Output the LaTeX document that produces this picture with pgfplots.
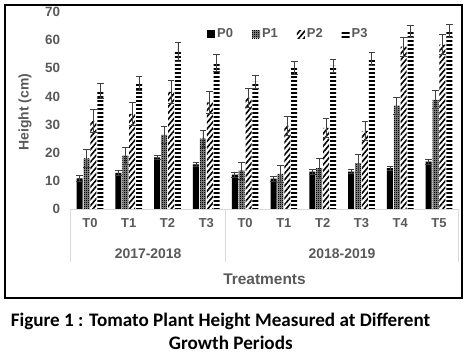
\documentclass[border=0pt]{standalone}
\usepackage{fontspec}
\setmainfont{Liberation Sans}
\newfontfamily\capfont{Carlito}
\usepackage{pgfplots}
\pgfplotsset{compat=1.18}
\usepackage{pgfplotstable}
\usetikzlibrary{patterns,patterns.meta}
\definecolor{txt}{HTML}{595959}
\definecolor{errc}{HTML}{404040}
\definecolor{sep}{HTML}{D9D9D9}
\pgfdeclarepatternformonly{checker}{\pgfqpoint{0pt}{0pt}}{\pgfqpoint{2bp}{2bp}}{\pgfqpoint{2bp}{2bp}}{%
 \pgfpathrectangle{\pgfqpoint{0pt}{0pt}}{\pgfqpoint{1.25bp}{1.25bp}}%
 \pgfpathrectangle{\pgfqpoint{1bp}{1bp}}{\pgfqpoint{1bp}{1bp}}%
 \pgfusepath{fill}}

\pgfplotstableread{
x P0 e0 P1 e1 P2 e2 P3 e3
0 10.9 0.9 18.0 3.2 31.3 4.0 42.0 2.6
1 12.8 0.8 19.0 3.0 33.8 4.0 44.8 2.5
2 18.3 0.8 26.3 3.1 41.6 4.0 55.9 3.3
3 15.9 0.8 25.0 3.0 37.9 4.0 51.8 3.0
4 12.2 0.9 13.6 3.1 39.5 3.5 45.2 2.4
5 10.8 0.8 12.5 3.1 29.5 3.5 50.3 2.3
6 13.3 0.9 14.5 3.5 28.8 3.5 50.9 2.3
7 13.3 0.8 16.3 3.2 27.8 3.4 53.5 2.3
8 14.5 0.8 36.7 3.0 57.7 3.4 63.2 2.2
9 16.8 0.8 38.8 3.2 58.4 3.5 63.4 2.3
}\data

\begin{document}
\begin{tikzpicture}
\path (0,0) rectangle (470bp,357bp);
\draw[line width=2.5bp] (5bp,59bp) rectangle (462bp,352bp);
\begin{axis}[
  at={(70.6bp,148bp)}, anchor=south west, scale only axis,
  width=387.8bp, height=197bp,
  xmin=-0.5, xmax=9.5, ymin=0, ymax=70,
  ytick={0,10,...,70},
  xtick={0,...,9},
  xticklabels={T0,T1,T2,T3,T0,T1,T2,T3,T4,T5},
  axis line style={draw=none},
  major tick length=0pt, tick style={draw=none},
  /pgf/number format/assume math mode=true,
  yticklabel style={font=\fontsize{13.5}{15}\selectfont\bfseries, text=txt, xshift=-7bp},
  xticklabel style={font=\fontsize{13}{15}\selectfont\bfseries, text=txt, yshift=-6bp},
  ylabel={Height (cm)},
  ylabel style={at={(axis description cs:-0.1176,0.492)}, anchor=center, font=\fontsize{14}{16}\selectfont\bfseries, text=txt},
  xlabel={Treatments},
  xlabel style={at={(axis description cs:0.5,-0.357)}, anchor=center, font=\fontsize{15.5}{17}\selectfont\bfseries, text=txt},
  ybar=0.9bp, bar width=6bp,
  clip=false,
  area legend,
  legend image code/.code={\draw[#1,draw=none] (0bp,-4bp) rectangle (8bp,4bp);},
  legend style={at={(0.5616,0.888)}, anchor=center, legend columns=4, draw=none, fill=none,
    font=\fontsize{13}{15}\selectfont\bfseries, text=txt,
    /tikz/every even column/.append style={column sep=17bp}},
  error bars/y dir=both, error bars/y explicit,
  error bars/error bar style={errc, line width=0.7bp},
  error bars/error mark options={errc, rotate=90, mark size=3.3bp, line width=0.7bp},
]
\addplot[fill=black, draw=none] table[x=x, y=P0, y error=e0]{\data};
\addlegendentry{P0}
\addplot[draw=none, fill=black!45, postaction={pattern=checker, pattern color=black}] table[x=x, y=P1, y error=e1]{\data};
\addlegendentry{P1}
\addplot[draw=none, pattern={Lines[angle=50, distance=4bp, line width=1.6bp]}, pattern color=black] table[x=x, y=P2, y error=e2]{\data};
\addlegendentry{P2}
\addplot[draw=none, pattern={Lines[angle=0, distance=4bp, line width=2bp]}, pattern color=black] table[x=x, y=P3, y error=e3]{\data};
\addlegendentry{P3}
\draw[sep, line width=0.8bp] (axis cs:-0.5,0) -- (axis cs:9.5,0);
\draw[sep, line width=0.8bp] (axis cs:-0.5,0) -- ([yshift=-53bp]axis cs:-0.5,0);
\draw[sep, line width=0.8bp] (axis cs:3.5,0) -- ([yshift=-53bp]axis cs:3.5,0);
\draw[sep, line width=0.8bp] (axis cs:9.5,0) -- ([yshift=-53bp]axis cs:9.5,0);
\node[font=\fontsize{14}{16}\selectfont\bfseries, text=txt] at ([yshift=-44.3bp]axis cs:1.5,0) {2017-2018};
\node[font=\fontsize{14}{16}\selectfont\bfseries, text=txt] at ([yshift=-44.3bp]axis cs:6.5,0) {2018-2019};
\end{axis}
\node[font=\capfont\fontsize{19.2}{21}\selectfont\bfseries] at (220.5bp,35.3bp) {Figure 1 : Tomato Plant Height Measured at Different};
\node[font=\capfont\fontsize{19.2}{21}\selectfont\bfseries] at (230.8bp,13.7bp) {Growth Periods};
\end{tikzpicture}
\end{document}
